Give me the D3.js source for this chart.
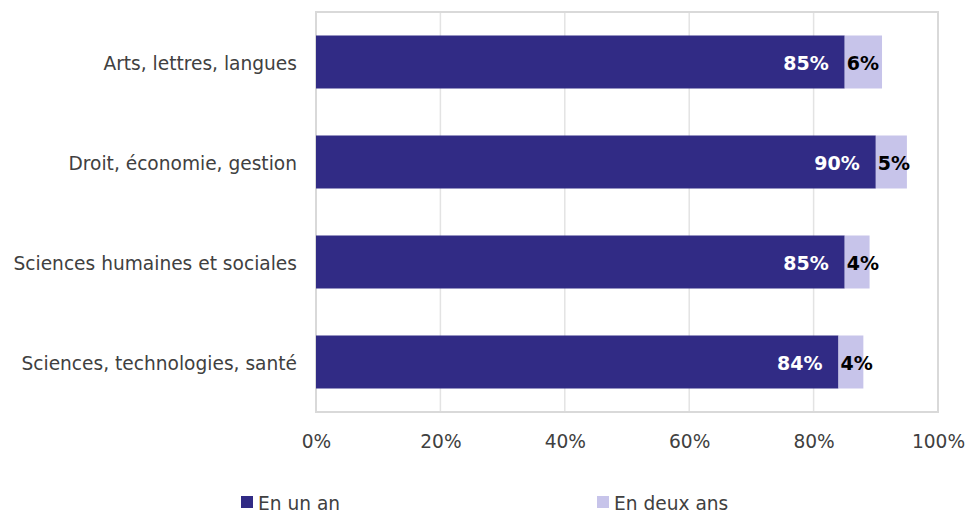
<!DOCTYPE html>
<html><head><meta charset="utf-8">
<script src="https://cdn.jsdelivr.net/npm/d3@7"></script>
<style>body{margin:0;background:#fff}</style>
</head><body>
<svg id="c" width="968" height="513"></svg>
<script>
const categories = ["Arts, lettres, langues","Droit, économie, gestion","Sciences humaines et sociales","Sciences, technologies, santé"];
const enUnAn = [85, 90, 85, 84];
const enDeuxAns = [6, 5, 4, 4];
const seriesNames = ["En un an","En deux ans"];
const ticks = [0,20,40,60,80,100];
const colors = ["#312b85","#c7c4ea"];

const svg = d3.select("#c");
const font = "DejaVu Sans, Verdana, sans-serif";
const L = 316, R = 938, T = 12, B = 412;
const x = d3.scaleLinear().domain([0,100]).range([L,R]);
const y = d3.scaleBand().domain(categories).range([T,B]).paddingInner(0.47).paddingOuter(0.235);

// gridlines
svg.append("g").selectAll("line").data(ticks.slice(1,-1)).join("line")
  .attr("x1",d=>x(d)).attr("x2",d=>x(d)).attr("y1",T).attr("y2",B)
  .attr("stroke","#e3e3e3").attr("stroke-width",1.5);
// frame
svg.append("rect").attr("x",L).attr("y",T).attr("width",R-L).attr("height",B-T)
  .attr("fill","none").attr("stroke","#d9d9d9").attr("stroke-width",2);

const data = categories.map((c,i)=>({c, a:enUnAn[i], b:enDeuxAns[i]}));
const g = svg.append("g");
g.selectAll(".a").data(data).join("rect")
  .attr("x",x(0)).attr("y",d=>y(d.c)).attr("width",d=>x(d.a)-x(0)).attr("height",y.bandwidth())
  .attr("fill",colors[0]);
g.selectAll(".b").data(data).join("rect")
  .attr("x",d=>x(d.a)).attr("y",d=>y(d.c)).attr("width",d=>x(d.a+d.b)-x(d.a)).attr("height",y.bandwidth())
  .attr("fill",colors[1]);
g.selectAll(".la").data(data).join("text")
  .attr("x",d=>x(d.a)-16).attr("y",d=>y(d.c)+y.bandwidth()/2+1).attr("dy","0.35em")
  .attr("text-anchor","end").attr("fill","#fff").attr("font-weight","bold")
  .attr("font-family",font).attr("font-size",19).text(d=>d.a+"%");
g.selectAll(".lb").data(data).join("text")
  .attr("x",d=>x(d.a)+2).attr("y",d=>y(d.c)+y.bandwidth()/2+1).attr("dy","0.35em")
  .attr("text-anchor","start").attr("fill","#000").attr("font-weight","bold")
  .attr("font-family",font).attr("font-size",19).text(d=>d.b+"%");

// category labels
svg.append("g").selectAll("text").data(categories).join("text")
  .attr("x",297).attr("y",d=>y(d)+y.bandwidth()/2+1).attr("dy","0.35em")
  .attr("text-anchor","end").attr("fill","#404040")
  .attr("font-family",font).attr("font-size",18.6).text(d=>d);

// x axis labels
const xa = svg.append("g").attr("transform",`translate(0,${B+20})`)
  .call(d3.axisBottom(x).tickValues(ticks).tickFormat(d=>d+"%").tickSize(0));
xa.select(".domain").remove();
xa.selectAll("text").attr("font-family",font).attr("font-size",18.6).attr("fill","#404040");

// legend
const lx = [241, 597];
const lg = svg.append("g").selectAll("g").data(seriesNames).join("g")
  .attr("transform",(d,i)=>`translate(${lx[i]},502)`);
lg.append("rect").attr("x",0).attr("y",-6).attr("width",12).attr("height",12).attr("fill",(d,i)=>colors[i]);
lg.append("text").attr("x",17).attr("y",1).attr("dy","0.35em").attr("fill","#404040")
  .attr("font-family",font).attr("font-size",18.6).text(d=>d);
</script>
</body></html>
